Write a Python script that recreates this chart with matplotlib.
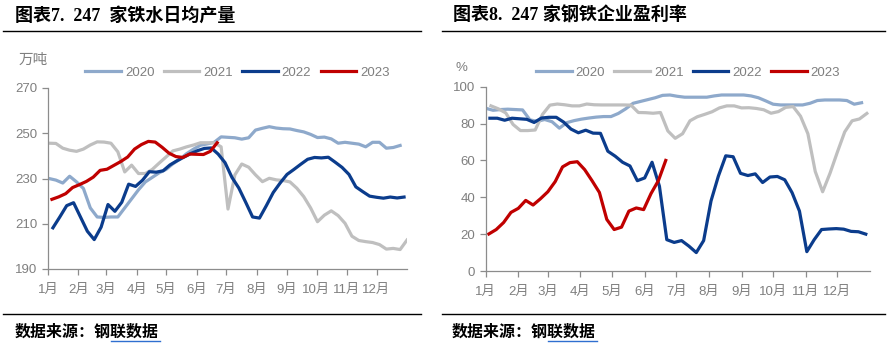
import matplotlib
matplotlib.use("Agg")
import matplotlib.pyplot as plt
import pandas as pd
from matplotlib.lines import Line2D

plt.rcParams['font.family'] = ['Liberation Sans', 'Noto Sans CJK SC']

# 247家铁水日均产量 (万吨), 周度
hm_2020 = [230, 229.3, 228, 231, 228.5, 225.6, 217, 213, 212.8, 213, 213, 217, 221, 225,
           228.5, 230.5, 232.5, 234, 236.5, 238.5, 241, 243, 244.7, 245.3, 246, 248.4, 248.2,
           248, 247.4, 248, 251.4, 252.2, 252.9, 252.3, 252, 251.9, 251.2, 250.6, 249.5, 248.1,
           248.3, 247.5, 245.6, 246, 245.6, 245.2, 244, 246, 246, 243.4, 243.7, 244.6]
hm_2021 = [245.6, 245.5, 243.4, 242.5, 242, 243, 244.8, 246.2, 246.1, 245.6, 241.8, 232.9,
           235.9, 232.2, 232.2, 234, 236.8, 239.5, 242.2, 243, 244, 244.8, 245.8, 245.8, 245.8,
           244, 216.5, 231.6, 236.4, 235, 231.6, 228.6, 230.1, 229.4, 229.1, 228.5, 225.7, 222,
           217, 210.9, 213.8, 215.7, 213.6, 210.2, 204.5, 202.6, 202.1, 201.7, 200.8, 198.8,
           199.1, 198.6, 202.8]
hm_2022 = [208.2, 213, 218, 219.3, 213, 206.7, 203, 208.5, 218.5, 215.5, 219.5, 227.5, 226.5,
           229.2, 233, 232.8, 233.4, 236, 237.8, 239.4, 241, 242.3, 243.3, 243.5, 240.8, 237,
           230.5, 225.8, 219.5, 213, 212.5, 218, 223.8, 228, 231.8, 234, 236.3, 238.5, 239.3,
           239.1, 239.4, 237.2, 234.9, 231.8, 226.3, 224.2, 222.2, 221.7, 221.3, 221.8, 221.4,
           221.8]
hm_2023 = [220.8, 221.9, 223.3, 226, 227.3, 228.7, 230.6, 233.6, 234.1, 235.8, 237.5, 239.5,
           243, 245, 246.4, 246.1, 243.8, 241.2, 239.7, 239.3, 240.8, 240.7, 240.6, 242, 245.8]

# 247家钢铁企业盈利率 (%), 周度
pr_2020 = [88.3, 87.2, 87.6, 87.8, 87.6, 87.4, 82, 81.2, 82.2, 81, 77.5, 80.5, 81.6, 82.4, 83,
           83.5, 83.8, 83.8, 85.5, 88, 91, 92, 93, 94, 95.3, 95.5, 94.8, 94.3, 94.3, 94.3, 94.3,
           95, 95.5, 95.5, 95.5, 95.5, 95, 94, 92.3, 90.5, 90.1, 90.1, 90.1, 90.1, 91, 92.5,
           92.8, 92.8, 92.8, 92.5, 90.5, 91.3]
pr_2021 = [89.6, 88, 85.8, 79.5, 76.2, 76.2, 76.5, 85, 90, 90.6, 90.2, 89.6, 89.6, 90.6, 90.2,
           90.1, 90.1, 90.1, 90.1, 90, 86, 85.9, 85.6, 86, 76, 72, 74.5, 81.5, 83.7, 85, 86.4,
           88.5, 89.6, 89.6, 88.5, 88.6, 88.2, 87.5, 85.6, 86.5, 88.8, 89.2, 84, 74.5, 54, 43,
           53, 64.5, 75.5, 81.5, 82.5, 85.5]
pr_2022 = [82.9, 82.9, 81.8, 82.9, 82.6, 82.3, 80.6, 83, 83.4, 83.4, 80.8, 77, 75, 76.4, 74.8,
           74.7, 65, 62.3, 59, 57, 49, 50.5, 59, 46, 17, 15.5, 16.5, 13.5, 10, 16.5, 38, 51.5,
           62.5, 62, 53, 51.8, 52.7, 48, 51, 51.3, 49.5, 42.5, 32.5, 10.5, 17, 22.5, 22.8, 23,
           22.7, 21.5, 21.3, 20]
pr_2023 = [20.1, 22.5, 26.3, 31.8, 34, 38.3, 35.8, 39.2, 43, 48.5, 56.5, 58.8, 59.3, 55, 49,
           42.6, 28, 22.5, 23.8, 32.5, 34.2, 33.3, 42, 49, 60]

years = ['2020', '2021', '2022', '2023']
colors = ['#8EA9CB', '#BFBFBF', '#0B3C8C', '#C00000']
month_labels = ['1月', '2月', '3月', '4月', '5月', '6月', '7月', '8月', '9月', '10月', '11月', '12月']
month_days = [1, 32, 60, 91, 121, 152, 182, 213, 244, 274, 305, 335]

# 每个序列首个数据日期
hm_start = ['2020-01-02', '2021-01-02', '2022-01-06', '2023-01-05']
pr_start = ['2020-01-01', '2021-01-06', '2022-01-05', '2023-01-04']


def weekly_days(start, n):
    # 一年中的第几天 (跨年的最后一周接着往后数)
    dates = pd.date_range(start, periods=n, freq='7D')
    jan1 = pd.Timestamp(year=dates[0].year, month=1, day=1)
    return (dates - jan1).days + 1


fig = plt.figure(figsize=(8.89, 3.43), dpi=100)
grey = '#7F7F7F'


def style_axes(ax, ylim, yticks):
    ax.set_xlim(1, 366)
    ax.set_ylim(*ylim)
    ax.set_yticks(yticks)
    ax.set_xticks(month_days)
    ax.set_xticklabels(month_labels)
    for s in ['top', 'right']:
        ax.spines[s].set_visible(False)
    for s in ['left', 'bottom']:
        ax.spines[s].set_color('#8C8C8C')
        ax.spines[s].set_linewidth(0.9)
    ax.tick_params(axis='both', colors='#8C8C8C', labelcolor=grey, labelsize=9.5,
                   length=4, width=0.9, direction='out')
    ax.tick_params(axis='x', pad=7)


# 左图
ax1 = fig.add_axes([48 / 889, 74 / 343, 359 / 889, 181 / 343])
for vals, st, c, y in zip([hm_2020, hm_2021, hm_2022, hm_2023], hm_start, colors, years):
    ax1.plot(weekly_days(st, len(vals)), vals, color=c, lw=2.3, label=y)
style_axes(ax1, (190, 270), [190, 210, 230, 250, 270])

# 右图
ax2 = fig.add_axes([485.7 / 889, 72 / 343, 384.3 / 889, 184.3 / 343])
for vals, st, c, y in zip([pr_2020, pr_2021, pr_2022, pr_2023], pr_start, colors, years):
    ax2.plot(weekly_days(st, len(vals)), vals, color=c, lw=2.3, label=y)
style_axes(ax2, (0, 100), [0, 20, 40, 60, 80, 100])

for ax, cx in [(ax1, 237.5 / 889), (ax2, 688 / 889)]:
    ax.legend(loc='center', bbox_to_anchor=(cx, 1 - 72.5 / 343), bbox_transform=fig.transFigure,
              ncol=4, frameon=False, fontsize=9.5, labelcolor=grey, handlelength=2.7,
              handletextpad=0.3, columnspacing=0.7, borderaxespad=0)

# 单位
fig.text(19 / 889, 1 - 60 / 343, '万吨', fontsize=10.5, color=grey, va='center', ha='left')
fig.text(455 / 889, 1 - 68 / 343, '%', fontsize=9.5, color=grey, va='center', ha='left')

# 标题 与 来源
title_font = dict(family=['Liberation Serif', 'Noto Sans CJK SC'], fontweight='bold',
                  fontsize=13, color='black', va='center', ha='left')
fig.text(15 / 889, 1 - 16 / 343, '图表7.  247  家铁水日均产量', **title_font)
fig.text(453 / 889, 1 - 16 / 343, '图表8.  247 家钢铁企业盈利率', **title_font)
fig.text(15 / 889, 1 - 333 / 343, '数据来源：钢联数据', **dict(title_font, fontsize=11.5))
fig.text(452 / 889, 1 - 333 / 343, '数据来源：钢联数据', **dict(title_font, fontsize=11.5))

# 分隔线
for x0, x1 in [(3, 421), (442, 885)]:
    for yy in [31, 314]:
        fig.add_artist(Line2D([x0 / 889, x1 / 889], [1 - yy / 343, 1 - yy / 343],
                              color='black', lw=1.0, transform=fig.transFigure))
for x0, x1 in [(111, 160), (548, 597)]:
    fig.add_artist(Line2D([x0 / 889, x1 / 889], [1 - 341 / 343, 1 - 341 / 343],
                          color='#2F6FD0', lw=1.0, transform=fig.transFigure))

fig.savefig('out.png', dpi=100)
